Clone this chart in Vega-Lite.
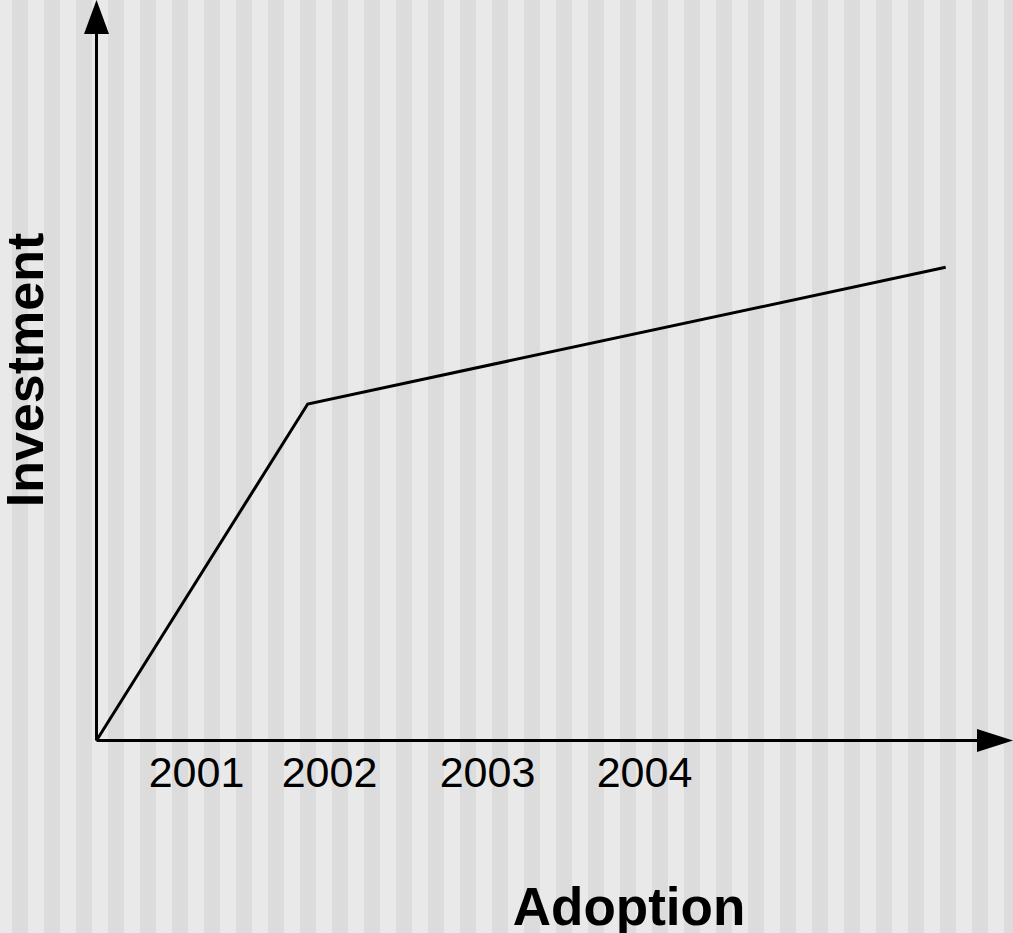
{
  "$schema": "https://vega.github.io/schema/vega-lite/v6.json",
  "width": 1013,
  "height": 933,
  "autosize": {"type": "none"},
  "padding": 0,
  "background": "#e9e9e9",
  "config": {"view": {"stroke": null}, "font": "Liberation Sans"},
  "datasets": {
    "stripes": [
      {"s": -84.5, "e": -68.5}, {"s": -52.5, "e": -36.5}, {"s": -20.5, "e": -4.5}, {"s": 11.5, "e": 27.5},
      {"s": 43.5, "e": 59.5}, {"s": 75.5, "e": 91.5}, {"s": 107.5, "e": 123.5}, {"s": 139.5, "e": 155.5},
      {"s": 171.5, "e": 187.5}, {"s": 203.5, "e": 219.5}, {"s": 235.5, "e": 251.5}, {"s": 267.5, "e": 283.5},
      {"s": 299.5, "e": 315.5}, {"s": 331.5, "e": 347.5}, {"s": 363.5, "e": 379.5}, {"s": 395.5, "e": 411.5},
      {"s": 427.5, "e": 443.5}, {"s": 459.5, "e": 475.5}, {"s": 491.5, "e": 507.5}, {"s": 523.5, "e": 539.5},
      {"s": 555.5, "e": 571.5}, {"s": 587.5, "e": 603.5}, {"s": 619.5, "e": 635.5}, {"s": 651.5, "e": 667.5},
      {"s": 683.5, "e": 699.5}, {"s": 715.5, "e": 731.5}, {"s": 747.5, "e": 763.5}, {"s": 779.5, "e": 795.5},
      {"s": 811.5, "e": 827.5}, {"s": 843.5, "e": 859.5}, {"s": 875.5, "e": 891.5}, {"s": 907.5, "e": 923.5}
    ],
    "curve": [
      {"adoption": 0, "investment": 0},
      {"adoption": 211.2, "investment": 336.5},
      {"adoption": 849.2, "investment": 473.2}
    ],
    "axes": [
      {"x": 0, "y": 0, "x2": 0, "y2": 708},
      {"x": 0, "y": 0, "x2": 883, "y2": 0}
    ],
    "yarrow": [{"x": 0, "y": 740.5}],
    "xarrow": [{"x": 916.5, "y": 0}],
    "ticks": [
      {"label": "2001", "x": 100, "y": -46.5},
      {"label": "2002", "x": 233, "y": -46.5},
      {"label": "2003", "x": 391, "y": -46.5},
      {"label": "2004", "x": 548, "y": -46.5}
    ],
    "xtitle": [{"label": "Adoption", "x": 532.5, "y": -184.5}],
    "ytitle": [{"label": "Investment", "x": -53.5, "y": 370.5}]
  },
  "layer": [
    {
      "data": {"name": "stripes"},
      "mark": {"type": "rect", "color": "#dcdcdc", "clip": true},
      "encoding": {
        "x": {"field": "s", "type": "quantitative", "scale": {"domain": [-96.5, 916.5], "nice": false, "zero": false}, "axis": null},
        "x2": {"field": "e"}
      }
    },
    {
      "data": {"name": "axes"},
      "mark": {"type": "rule", "color": "#000000", "strokeWidth": 3},
      "encoding": {
        "x": {"field": "x", "type": "quantitative", "scale": {"domain": [-96.5, 916.5], "nice": false, "zero": false}, "axis": null},
        "y": {"field": "y", "type": "quantitative", "scale": {"domain": [-192.5, 740.5], "nice": false, "zero": false}, "axis": null},
        "x2": {"field": "x2"},
        "y2": {"field": "y2"}
      }
    },
    {
      "data": {"name": "curve"},
      "mark": {"type": "line", "color": "#000000", "strokeWidth": 3},
      "encoding": {
        "x": {"field": "adoption", "type": "quantitative", "scale": {"domain": [-96.5, 916.5], "nice": false, "zero": false}, "axis": null},
        "y": {"field": "investment", "type": "quantitative", "scale": {"domain": [-192.5, 740.5], "nice": false, "zero": false}, "axis": null}
      }
    },
    {
      "data": {"name": "yarrow"},
      "mark": {"type": "point", "shape": "M0,0L0.3676,1L-0.3676,1Z", "size": 4624, "filled": true, "color": "#000000", "opacity": 1, "strokeWidth": 0},
      "encoding": {
        "x": {"field": "x", "type": "quantitative", "scale": {"domain": [-96.5, 916.5], "nice": false, "zero": false}, "axis": null},
        "y": {"field": "y", "type": "quantitative", "scale": {"domain": [-192.5, 740.5], "nice": false, "zero": false}, "axis": null}
      }
    },
    {
      "data": {"name": "xarrow"},
      "mark": {"type": "point", "shape": "M0,0L-1,-0.319L-1,0.319Z", "size": 5184, "filled": true, "color": "#000000", "opacity": 1, "strokeWidth": 0},
      "encoding": {
        "x": {"field": "x", "type": "quantitative", "scale": {"domain": [-96.5, 916.5], "nice": false, "zero": false}, "axis": null},
        "y": {"field": "y", "type": "quantitative", "scale": {"domain": [-192.5, 740.5], "nice": false, "zero": false}, "axis": null}
      }
    },
    {
      "data": {"name": "ticks"},
      "mark": {"type": "text", "fontSize": 43, "font": "Liberation Sans", "align": "center", "baseline": "alphabetic", "color": "#000000"},
      "encoding": {
        "x": {"field": "x", "type": "quantitative", "scale": {"domain": [-96.5, 916.5], "nice": false, "zero": false}, "axis": null},
        "y": {"field": "y", "type": "quantitative", "scale": {"domain": [-192.5, 740.5], "nice": false, "zero": false}, "axis": null},
        "text": {"field": "label"}
      }
    },
    {
      "data": {"name": "xtitle"},
      "mark": {"type": "text", "fontSize": 53, "fontWeight": "bold", "font": "Liberation Sans", "align": "center", "baseline": "alphabetic", "color": "#000000"},
      "encoding": {
        "x": {"field": "x", "type": "quantitative", "scale": {"domain": [-96.5, 916.5], "nice": false, "zero": false}, "axis": null},
        "y": {"field": "y", "type": "quantitative", "scale": {"domain": [-192.5, 740.5], "nice": false, "zero": false}, "axis": null},
        "text": {"field": "label"}
      }
    },
    {
      "data": {"name": "ytitle"},
      "mark": {"type": "text", "fontSize": 52, "fontWeight": "bold", "font": "Liberation Sans", "align": "center", "baseline": "alphabetic", "angle": 270, "color": "#000000"},
      "encoding": {
        "x": {"field": "x", "type": "quantitative", "scale": {"domain": [-96.5, 916.5], "nice": false, "zero": false}, "axis": null},
        "y": {"field": "y", "type": "quantitative", "scale": {"domain": [-192.5, 740.5], "nice": false, "zero": false}, "axis": null},
        "text": {"field": "label"}
      }
    }
  ]
}
